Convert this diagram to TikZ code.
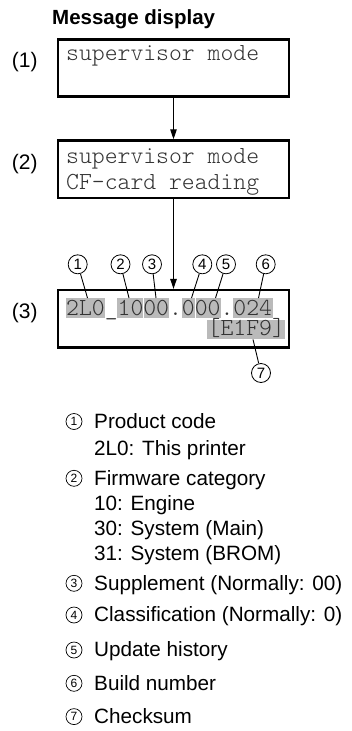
\documentclass[tikz,border=0pt]{standalone}
\usepackage{fontspec}
\setmainfont{Liberation Sans}
\newfontfamily\lcd{lmmonolt10-regular.otf}
\usetikzlibrary{arrows.meta}
\begin{document}
\begin{tikzpicture}[x=1pt,y=-1pt,
  disp/.style={draw, line width=2.6pt, minimum width=231pt, minimum height=57.5pt, inner sep=0},
  lcdtext/.style={font=\lcd\fontsize{24.5}{26}\selectfont, inner sep=0, anchor=base west, text=black!80},
  hl/.style={fill=black!27, inner sep=0, minimum height=19.5pt, anchor=north west},
  callout/.style={circle, draw, line width=0.8pt, minimum size=19pt, inner sep=0, font=\fontsize{15}{15}\selectfont},
  lcirc/.style={circle, draw, line width=0.7pt, minimum size=16pt, inner sep=0, font=\fontsize{12}{12}\selectfont},
  legend/.style={font=\fontsize{20.7}{20.7}\selectfont, inner sep=0, anchor=base west},
  tag/.style={font=\fontsize{21}{21}\selectfont, inner sep=0, anchor=base west},
  flow/.style={line width=1.1pt, -{Triangle[length=10pt,width=6.5pt]}},
  leader/.style={line width=0.9pt}]
\useasboundingbox (0,0) rectangle (352,731);

% title and tags
\node[anchor=base west, inner sep=0, font=\bfseries\fontsize{20.5}{20.5}\selectfont] (title) at (52,24) {Message display};
\node[tag] (tag1) at (11.7,67) {(1)};
\node[tag] (tag2) at (11.7,169) {(2)};
\node[tag] (tag3) at (11.7,318) {(3)};

% display boxes
\node[disp] (b1) at (173.5,68) {};
\node[disp] (b2) at (173.5,169.3) {};
\node[disp] (b3) at (173.5,318.9) {};

\draw[flow] (b1.south) -- (b2.north);
\draw[flow] (b2.south) -- (b3.north);

% box texts
\node[lcdtext] (t1) at (66,60.5) {supervisor mode};
\node[lcdtext] (t2a) at (66,163) {supervisor mode};
\node[lcdtext] (t2b) at (66,189) {CF-card reading};

% highlights
\node[hl, minimum width=39.6pt] (g1) at (65.5,298) {};
\node[hl, minimum width=25.7pt] (g2) at (117,298) {};
\node[hl, minimum width=25.3pt] (g3) at (143.7,298) {};
\node[hl, minimum width=13pt] (g4) at (181.3,298) {};
\node[hl, minimum width=25.2pt] (g5) at (195.6,298) {};
\node[hl, minimum width=39.6pt] (g6) at (232.7,298) {};
\node[hl, minimum width=78.2pt, minimum height=19.5pt] (g7) at (207,319.5) {};

\node[lcdtext, text depth=1.5pt] (t3a) at (66,315.5) {2L0\_1000.000.024};
\node[lcdtext, text height=14pt] (t3b) at (207.5,335.5) {[E1F9]};

% callouts
\node[callout] (c1) at (77.7,264.3) {1};
\node[callout] (c2) at (120.5,264.3) {2};
\node[callout] (c3) at (152,264.3) {3};
\node[callout] (c4) at (202.3,264.3) {4};
\node[callout] (c5) at (226,264.3) {5};
\node[callout] (c6) at (265.7,264.3) {6};
\node[callout] (c7) at (261,373) {7};

\coordinate (p1) at ([xshift=22pt]g1.north west);
\coordinate (p2) at ([xshift=12pt]g2.north west);
\coordinate (p3) at ([xshift=12.3pt]g3.north west);
\coordinate (p4) at ([xshift=10.2pt]g4.north west);
\coordinate (p5) at ([xshift=19.9pt]g5.north west);
\coordinate (p6) at ([xshift=25.8pt]g6.north west);
\coordinate (p7) at ([xshift=46pt]g7.south west);

\foreach \i in {1,...,7} {\draw[leader] (c\i) -- (p\i);}

% legend
\node[lcirc] (l1) at (74,421.5) {1};
\node[legend] (d1) at (94,428) {Product code};
\node[legend] (d1b) at (94,455) {2L0: This printer};
\node[lcirc] (l2) at (74,478.3) {2};
\node[legend] (d2) at (94,485) {Firmware category};
\node[legend] (d2a) at (94,510) {10: Engine};
\node[legend] (d2b) at (94,535) {30: System (Main)};
\node[legend] (d2c) at (94,560) {31: System (BROM)};
\node[lcirc] (l3) at (74,583.3) {3};
\node[legend] (d3) at (94,590) {Supplement (Normally: 00)};
\node[lcirc] (l4) at (74,615) {4};
\node[legend] (d4) at (94,621.7) {Classification (Normally: 0)};
\node[lcirc] (l5) at (74,650) {5};
\node[legend] (d5) at (94,656.7) {Update history};
\node[lcirc] (l6) at (74,683.3) {6};
\node[legend] (d6) at (94,690) {Build number};
\node[lcirc] (l7) at (74,716.6) {7};
\node[legend] (d7) at (94,723.3) {Checksum};
\end{tikzpicture}
\end{document}
